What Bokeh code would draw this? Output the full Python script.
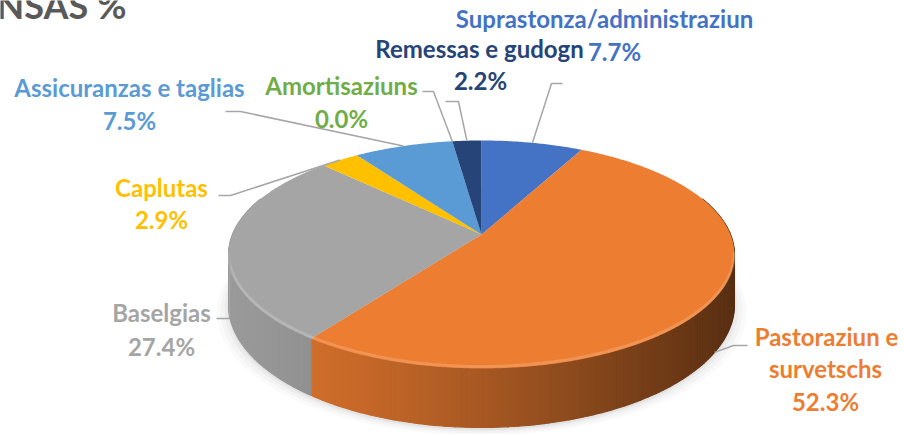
import numpy as np
from bokeh.plotting import figure
from bokeh.models import Range1d
from bokeh.core.properties import value
from bokeh.embed import file_html
from bokeh.resources import INLINE

# ---------------- data ----------------
categories = ["Suprastonza/administraziun", "Pastoraziun e survetschs", "Baselgias",
              "Caplutas", "Assicuranzas e taglias", "Amortisaziuns", "Remessas e gudogn"]
shares = [7.7, 52.3, 27.4, 2.9, 7.5, 0.0, 2.2]
colors = ["#4472C4", "#ED7D31", "#A5A5A5", "#FFC000", "#5B9BD5", "#70AD47", "#264478"]
label_lines = [["Suprastonza/administraziun"], ["Pastoraziun e", "survetschs"], ["Baselgias"],
               ["Caplutas"], ["Assicuranzas e taglias"], ["Amortisaziuns"], ["Remessas e gudogn"]]
title_text = "NSAS %"

# ---------------- layout ----------------
W, H = 904, 434
CX, CY = 481, 234          # apex of the pie on screen
AX, AY = 249.0, 110.5      # projected radii
K = 0.1754                 # perspective factor
DEPTH = 48.6               # thickness
FONT = "Lato"
FS = "24px"

# label anchor positions (center of each text line), pct line position
name_pos = [[(604, 18)], [(826, 336)], [(161, 312)], [(161, 187)],
            [(129, 87)], [(341, 85)], [(479, 48)]]
name_pos[1].append((825, 368))
pct_pos = [(614, 51), (825, 401), (161, 346), (161, 219), (129, 120), (341, 118), (480, 80)]
# leader elbows (after start point on the pie)
leader_elbows = [[(551, 83), (562, 83)], [(733, 345), (747, 345)], [(229, 318), (216, 318)],
                 [(230, 195), (218, 195)], [(240, 111), (225, 111)], [(433, 91), (422, 91)],
                 [(458, 101), (445, 101)]]
leader_on_side = [False, True, False, False, False, False, False]


def rim(theta):
    t = np.radians(theta)
    w = 1 + K * np.cos(t)
    return CX + AX * np.sin(t) / w, CY - AY * np.cos(t) / w


def bottom(theta):
    x, y = rim(theta)
    t = np.radians(theta)
    return x, y + DEPTH / (1 + K * np.cos(t))


def shade(hexc, f):
    h = hexc.lstrip("#")
    r, g, b = (int(h[i:i + 2], 16) for i in (0, 2, 4))
    c = [max(0, min(255, int(round(v * f)))) for v in (r, g, b)]
    return "#%02x%02x%02x" % tuple(c)


p = figure(width=W, height=H, x_range=Range1d(0, W), y_range=Range1d(H, 0),
           output_backend="svg", toolbar_location=None, min_border=0,
           x_axis_location=None, y_axis_location=None, outline_line_color=None,
           background_fill_color="white", border_fill_color="white")
p.grid.visible = False

# angles
total = sum(shares)
starts, ends = [], []
acc = 0.0
for v in shares:
    starts.append(acc / total * 360.0)
    acc += v
    ends.append(acc / total * 360.0)

# soft shadow under the pie
sh_t = np.linspace(0, 360, 181)
for grow, a in [(12, 0.02), (8, 0.025), (4, 0.03), (1, 0.04)]:
    bx, by = bottom(sh_t)
    sx = CX + (bx - CX) * (1 + grow / 250.0)
    sy = by + grow * 0.5 + 2
    p.patch(sx, sy, fill_color="#000000", fill_alpha=a, line_color=None)

# side walls
sxs, sys_, scol = [], [], []
for s, e, c in zip(starts, ends, colors):
    a0, a1 = max(s, 70.0), min(e, 290.0)
    if a1 <= a0:
        continue
    n = max(2, int((a1 - a0) / 1.0) + 1)
    th = np.linspace(a0, a1, n)
    for j in range(n - 1):
        xa, ya = rim(th[j]); xb, yb = rim(th[j + 1])
        xc, yc = bottom(th[j + 1]); xd, yd = bottom(th[j])
        xm = (xa + xb) / 2
        t = np.clip((xm - 228.0) / 506.0, 0, 1)
        f = 0.93 - 0.56 * t ** 1.3
        sxs.append([xa, xb, xc, xd]); sys_.append([ya, yb, yc, yd]); scol.append(shade(c, f))
p.patches(sxs, sys_, fill_color=scol, line_color=scol, line_width=1.2)

# top faces
txs, tys, tcol = [], [], []
for s, e, c in zip(starts, ends, colors):
    if e - s <= 0:
        continue
    th = np.linspace(s, e, max(2, int((e - s) / 0.5) + 1))
    x, y = rim(th)
    txs.append([CX] + list(x)); tys.append([CY] + list(y)); tcol.append(c)
p.patches(txs, tys, fill_color=tcol, line_color=None)

# bevel highlight along front rim
ht = np.linspace(100, 260, 200)
hx, hy = rim(ht)
p.line(hx, hy - 2, line_color="white", line_alpha=0.18, line_width=3)

# leader lines
for i, (s, e) in enumerate(zip(starts, ends)):
    mid = (s + e) / 2
    x0, y0 = bottom(mid) if leader_on_side[i] else rim(mid)
    xs = [float(x0)] + [pt[0] for pt in leader_elbows[i]]
    ys = [float(y0)] + [pt[1] for pt in leader_elbows[i]]
    p.line(xs, ys, line_color="#A6A6A6", line_width=1.5)

# labels
for i, v in enumerate(shares):
    for line, (lx, ly) in zip(label_lines[i], name_pos[i]):
        p.text([lx], [ly], text=[line], text_align="center", text_baseline="middle",
               text_font=value(FONT), text_font_style="bold", text_font_size=FS,
               text_color=colors[i])
    px, py = pct_pos[i]
    p.text([px], [py], text=["%.1f%%" % v], text_align="center", text_baseline="middle",
           text_font=value(FONT), text_font_style="bold", text_font_size=FS,
           text_color=colors[i])

# title (cut at the top-left edge, as in the reference)
p.text([-4], [4], text=[title_text], text_align="left", text_baseline="middle",
       text_font=value(FONT), text_font_style="bold", text_font_size="36px",
       text_color="#595959")

open("out.html", "w").write(file_html(p, INLINE))
